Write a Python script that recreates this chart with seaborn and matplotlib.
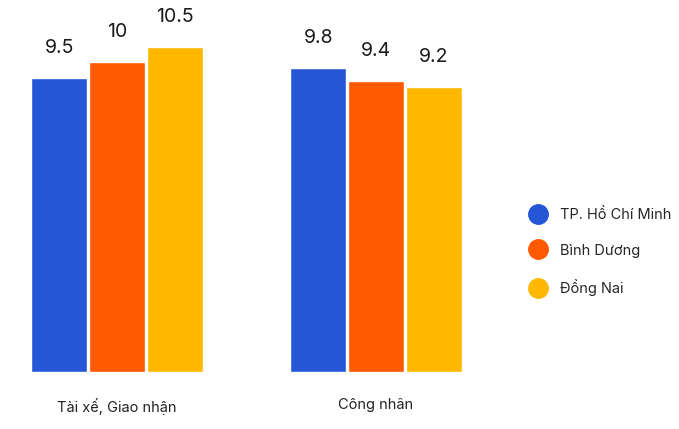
import matplotlib
matplotlib.use("Agg")
import matplotlib.pyplot as plt
import seaborn as sns
import pandas as pd
from matplotlib.lines import Line2D

categories = ["Tài xế, Giao nhận", "Công nhân"]
regions = ["TP. Hồ Chí Minh", "Bình Dương", "Đồng Nai"]
values = {
    "TP. Hồ Chí Minh": [9.5, 9.8],
    "Bình Dương": [10, 9.4],
    "Đồng Nai": [10.5, 9.2],
}
colors = ["#2556D6", "#FF5A00", "#FFB800"]

rows = []
for r in regions:
    for c, v in zip(categories, values[r]):
        rows.append({"cat": c, "region": r, "val": v})
df = pd.DataFrame(rows)

sns.set_theme(style="white")
plt.rcParams["font.family"] = ["Inter", "DejaVu Sans"]

fig = plt.figure(figsize=(6.79, 4.29), dpi=100)
ax = fig.add_axes([0.5 / 679, 57 / 429, 492 / 679, 372 / 429])
sns.barplot(data=df, x="cat", y="val", hue="region", hue_order=regions,
            order=categories, palette=colors, width=0.67, gap=0.035,
            saturation=1, ax=ax, legend=False, errorbar=None)
ax.set_xlim(-0.45, 1.45)
ax.set_ylim(0, 12)
for cont in ax.containers:
    labels = [("%g" % v) for v in cont.datavalues]
    ax.bar_label(cont, labels=labels, padding=15, fontsize=14, color="#1a1a1a")
for s in ax.spines.values():
    s.set_visible(False)
ax.set_yticks([])
ax.set_xlabel("")
ax.set_ylabel("")
ax.tick_params(axis="x", length=0, pad=19, labelsize=10.5, labelcolor="#222222")

handles = [Line2D([0], [0], marker="o", linestyle="", markersize=14,
                  markerfacecolor=c, markeredgecolor=c) for c in colors]
fig.legend(handles, regions, loc="center left", bbox_to_anchor=(518 / 679, 1 - 252 / 429),
           frameon=False, fontsize=10.5, labelspacing=1.45, handletextpad=0.5,
           borderaxespad=0)

fig.savefig("out.png", dpi=100)
